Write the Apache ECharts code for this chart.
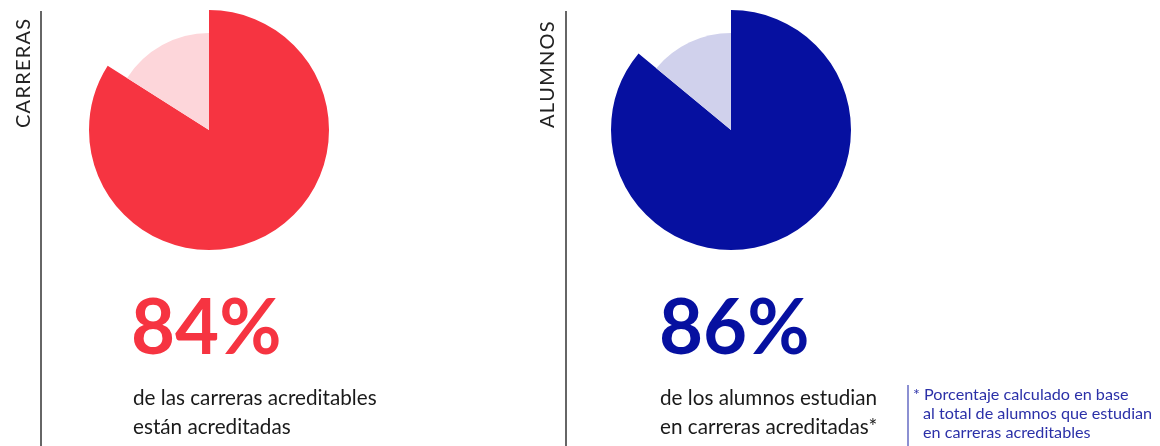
<!DOCTYPE html>
<html>
<head>
<meta charset="utf-8">
<script src="https://cdn.jsdelivr.net/npm/echarts@6/dist/echarts.min.js"></script>
<style>
  html, body { margin: 0; padding: 0; background: #fff; }
  #chart { width: 1160px; height: 446px; }
</style>
</head>
<body>
<div id="chart"></div>
<script>
const groups = ['CARRERAS', 'ALUMNOS']
const accredited = [84, 86]
const notAccredited = [16, 14]
const mainColors = ['#f63441', '#0610a0']
const lightColors = ['#fdd6da', '#d0d1ec']
const captions = [
  ['de las carreras acreditables', 'están acreditadas'],
  ['de los alumnos estudian', 'en carreras acreditadas*']
]
const footnote = ['* Porcentaje calculado en base', 'al total de alumnos que estudian', 'en carreras acreditables']

const panelX = [0, 524]
const chart = echarts.init(document.getElementById('chart'))

const series = []
const graphic = []
groups.forEach((g, i) => {
  const ox = panelX[i]
  const center = [209 + ox + (i ? -2 : 0), 130]
  series.push({
    type: 'pie', radius: [0, 120], center, startAngle: 90, clockwise: true,
    silent: true, label: { show: false }, labelLine: { show: false },
    data: [
      { name: g + ' sí', value: accredited[i], itemStyle: { color: mainColors[i] } },
      { name: g + ' no', value: notAccredited[i], itemStyle: { color: 'rgba(0,0,0,0)' } }
    ]
  })
  series.push({
    type: 'pie', radius: [0, 97], center, startAngle: 90, clockwise: true,
    silent: true, label: { show: false }, labelLine: { show: false },
    data: [
      { name: g + ' sí', value: accredited[i], itemStyle: { color: 'rgba(0,0,0,0)' } },
      { name: g + ' no', value: notAccredited[i], itemStyle: { color: lightColors[i] } }
    ]
  })
  // vertical divider
  graphic.push({ type: 'line', shape: { x1: 41 + ox + (i ? 1 : 0), y1: 11, x2: 41 + ox + (i ? 1 : 0), y2: 446 },
    style: { stroke: '#333', lineWidth: 1.5 } })
  // rotated group label
  graphic.push({ type: 'text', x: 24 + ox, y: 128, rotation: Math.PI / 2,
    style: { text: g.split('').join('\u200a'), fill: '#222', font: '20px Lato', align: 'left', verticalAlign: 'middle' } })
  // big percentage
  graphic.push({ type: 'text', x: 131 + ox + (i ? 4 : 0), y: 367,
    style: { text: accredited[i] + '%', fill: mainColors[i], font: 'bold 76px Lato', align: 'left', verticalAlign: 'bottom' } })
  captions[i].forEach((t, k) => {
    graphic.push({ type: 'text', x: 133 + ox + (i ? 3 : 0), y: 409 + k * 29,
      style: { text: t, fill: '#1a1a1a', font: '20.7px Lato', align: 'left', verticalAlign: 'bottom' } })
  })
})

graphic.push({ type: 'line', shape: { x1: 908, y1: 385, x2: 908, y2: 446 }, style: { stroke: '#8c90d2', lineWidth: 2 } })
footnote.forEach((t, k) => {
  graphic.push({ type: 'text', x: k ? 923 : 913, y: 403 + k * 19,
    style: { text: t, fill: '#2b30a8', font: '16.2px Lato', align: 'left', verticalAlign: 'bottom' } })
})

chart.setOption({ animation: false, series, graphic })
</script>
</body>
</html>
